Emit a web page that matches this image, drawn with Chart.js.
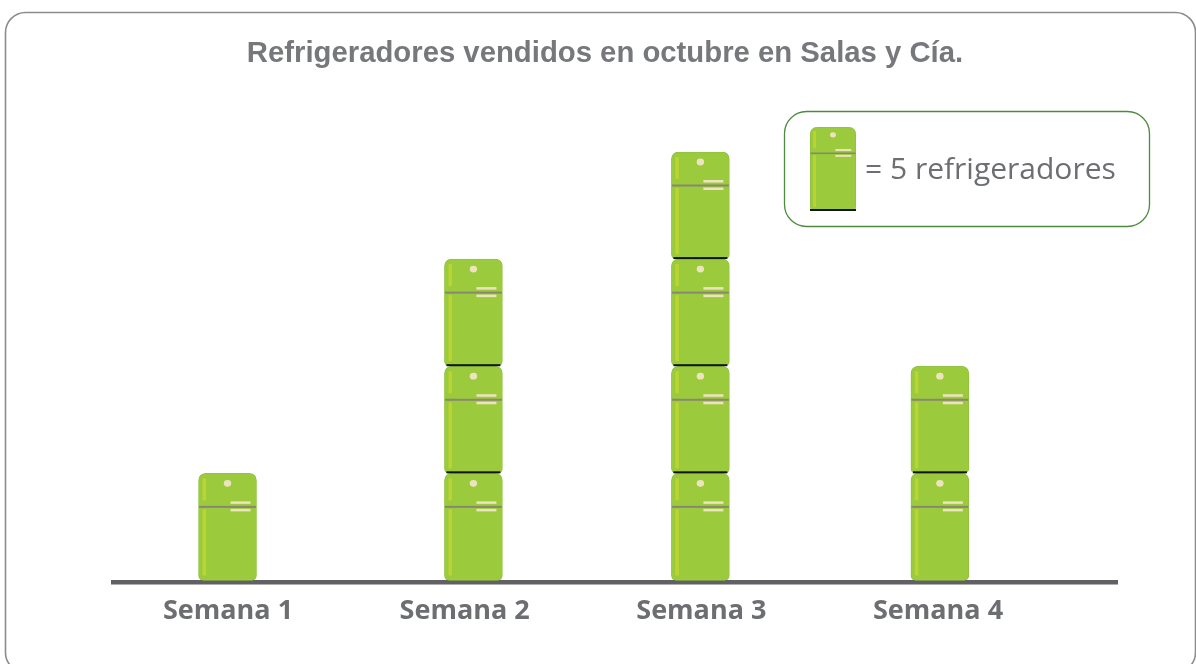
<!DOCTYPE html>
<html><head><meta charset="utf-8">
<style>html,body{margin:0;padding:0;background:#fff;overflow:hidden}canvas{display:block}</style>
<script src="https://cdn.jsdelivr.net/npm/chart.js@4/dist/chart.umd.min.js"></script>
</head><body><canvas id="c" width="1196" height="664"></canvas>
<script>
const categories = ['Semana 1','Semana 2','Semana 3','Semana 4'];
const sold = [5,15,20,10];
const unitsPerIcon = 5;
const barCentres = [0.998,2.037,2.996,4.008];
const titleText = 'Refrigeradores vendidos en octubre en Salas y Cía.';
const keyText = '= 5 refrigeradores';

const GREEN='#9bcb3c', EDGE='#90c440', STRIPE='#b9d433', CREAM='#eee3bf', LINE='#8a8672', INK='#6d6e71';
const layerCount = Math.max(...sold)/unitsPerIcon;
const layers = [];
for(let i=0;i<layerCount;i++){
  layers.push({
    label:'Refrigeradores',
    data:sold.map((v,k)=>({x:barCentres[k],y:v>=unitsPerIcon*(i+1)?unitsPerIcon:null})),
    backgroundColor:GREEN,borderColor:EDGE,borderWidth:1,borderSkipped:false,
    borderRadius:{topLeft:7,topRight:7,bottomLeft:5,bottomRight:5},
    barThickness:58
  });
}
function details(ctx,x,y,w,h,under){
  const sx=w/58, sy=h/107;
  const R=(a,b,c,d,col)=>{ctx.fillStyle=col;ctx.fillRect(x+a*sx,y+b*sy,c*sx,d*sy);};
  R(4,5,3.5,22,STRIPE);
  R(4,36,3.5,66,STRIPE);
  ctx.fillStyle=CREAM;ctx.beginPath();ctx.ellipse(x+29*sx,y+10*sy,3.7*sx,3.4*sy,0,0,7);ctx.fill();
  R(0.5,32.5,57,2,LINE);
  R(32,28,20,2.5,CREAM);
  R(32,35.5,20,2.5,CREAM);
  if(under){ctx.fillStyle='#111418';ctx.fillRect(x+2*sx,y+h-2,w-4*sx,2);}
}
const pictogram={id:'pictogram',
  beforeDraw(chart){
    const c=chart.ctx;c.save();c.strokeStyle='#8c8c8c';c.lineWidth=1.6;
    c.beginPath();c.roundRect(5.5,12.5,1190,660,20);c.stroke();c.restore();
  },
  afterLayout(chart){chart.titleBlock.left=91;chart.titleBlock.right=1119;},
  afterDatasetsDraw(chart){
    const c=chart.ctx;c.save();
    chart.data.datasets.forEach((d,i)=>{
      chart.getDatasetMeta(i).data.forEach((b,k)=>{
        if(d.data[k].y==null)return;
        const p=b.getProps(['x','y','base','width'],true);
        details(c,p.x-p.width/2,p.y,p.width,p.base-p.y,i>0);
      });
    });
    c.strokeStyle='#4f8a3e';c.lineWidth=1.3;c.beginPath();c.roundRect(784.5,111.5,365,115,22);c.stroke();
    c.fillStyle=GREEN;c.strokeStyle=EDGE;c.lineWidth=1;
    c.beginPath();c.roundRect(810.5,127.5,45,82,[6,6,2,2]);c.fill();c.stroke();
    details(c,810,127,46,84,false);
    c.fillStyle='#111418';c.fillRect(810,209,46,2);
    c.fillStyle=INK;c.font='400 30px "Open Sans"';c.textAlign='left';c.textBaseline='middle';
    c.fillText(keyText,865,170);
    c.restore();
  }
};
new Chart(document.getElementById('c'),{
  type:'bar',
  data:{datasets:layers},
  plugins:[pictogram],
  options:{
    responsive:false,animation:false,
    layout:{padding:{left:113,right:79,top:0,bottom:23}},
    plugins:{legend:{display:false},tooltip:{enabled:false},
      title:{display:true,text:titleText,color:'#77787b',font:{family:'"Liberation Sans"',size:29.3,weight:'700'},padding:{top:36,bottom:80.8}}},
    scales:{
      x:{type:'linear',stacked:true,offset:false,min:0.5141,max:4.7563,
        afterBuildTicks(s){s.ticks=categories.map((_,i)=>({value:i+1}));},
        grid:{display:false,drawTicks:false},
        border:{display:true,color:'#616065',width:4.5},
        ticks:{autoSkip:false,maxRotation:0,padding:13,color:INK,font:{family:'"Open Sans"',size:27,weight:'700'},
          callback:v=>categories[v-1]}},
      y:{stacked:true,display:false,min:-0.1,max:20}
    }
  }
});
</script></body></html>
